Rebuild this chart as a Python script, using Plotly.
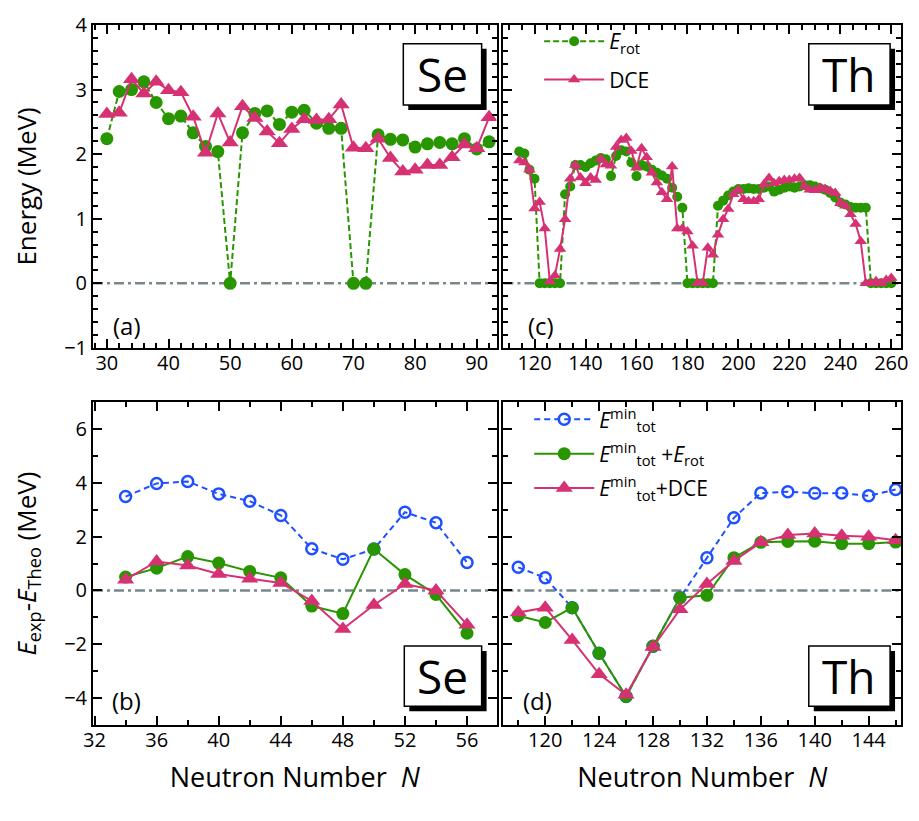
import plotly.graph_objects as go

# ---------------- data ----------------
# (a) Se : rotational energy and DCE
N_se_top = [30, 32, 34, 36, 38, 40, 42, 44, 46, 48, 50, 52, 54, 56, 58, 60,
            62, 64, 66, 68, 70, 72, 74, 76, 78, 80, 82, 84, 86, 88, 90, 92]
se_erot = [2.24, 2.97, 3.00, 3.12, 2.80, 2.55, 2.59, 2.33, 2.12, 2.04, 0.0, 2.33, 2.63, 2.67, 2.46, 2.65,
           2.68, 2.48, 2.40, 2.40, 0.0, 0.0, 2.30, 2.23, 2.22, 2.11, 2.16, 2.18, 2.16, 2.24, 2.08, 2.19]
se_dce = [2.62, 2.64, 3.16, 2.94, 3.12, 2.99, 2.96, 2.58, 2.02, 2.63, 2.18, 2.74, 2.56, 2.35, 2.17, 2.39,
          2.54, 2.53, 2.54, 2.77, 2.10, 2.09, 2.24, 1.94, 1.73, 1.76, 1.83, 1.83, 1.95, 2.15, 2.09, 2.57]

# (c) Th : rotational energy and DCE
N_th_top = [114, 116, 118, 120, 122, 124, 126, 128, 130, 132, 134, 136, 138, 140, 142, 144,
            146, 148, 150, 152, 154, 156, 158, 160, 162, 164, 166, 168, 170, 172, 174, 176,
            178, 180, 182, 184, 186, 188, 190, 192, 194, 196, 198, 200, 202, 204, 206, 208,
            210, 212, 214, 216, 218, 220, 222, 224, 226, 228, 230, 232, 234, 236, 238, 240,
            242, 244, 246, 248, 250, 252, 254, 256, 258, 260]
th_erot = [2.04, 2.01, 1.76, 1.62, 0.0, 0.0, 0.0, 0.0, 0.0, 1.38, 1.50, 1.83, 1.83, 1.80, 1.86, 1.90,
           1.94, 1.92, 1.66, 1.97, 2.06, 2.04, 1.87, 1.66, 1.83, 1.81, 1.76, 1.71, 1.67, 1.62, 1.48, 1.34,
           1.17, 0.0, 0.0, 0.0, 0.0, 0.0, 0.0, 1.20, 1.28, 1.36, 1.42, 1.46, 1.46, 1.47, 1.46, 1.46,
           1.48, 1.50, 1.42, 1.45, 1.48, 1.50, 1.48, 1.50, 1.52, 1.52, 1.50, 1.47, 1.45, 1.40, 1.33, 1.25,
           1.22, 1.18, 1.17, 1.17, 1.17, 0.0, 0.0, 0.0, 0.0, 0.0]
th_dce = [1.90, 1.87, 1.76, 1.16, 1.26, 0.85, 0.03, 0.12, 0.53, 0.99, 1.62, 1.83, 1.64, 1.55, 1.64, 1.60,
          1.93, 1.84, 1.82, 2.11, 2.22, 2.25, 2.05, 1.79, 2.09, 1.95, 1.71, 1.56, 1.41, 1.30, 1.81, 0.85,
          0.85, 0.80, 0.58, 0.0, 0.0, 0.55, 0.44, 0.75, 0.99, 1.15, 1.38, 1.45, 1.30, 1.27, 1.27, 1.30,
          1.53, 1.63, 1.55, 1.58, 1.60, 1.60, 1.62, 1.63, 1.50, 1.45, 1.44, 1.48, 1.46, 1.43, 1.40, 1.24,
          1.20, 1.07, 0.92, 0.65, 0.0, 0.0, 0.03, 0.0, 0.05, 0.08]

# (b) Se : E_exp - E_theo
N_se_bot = [34, 36, 38, 40, 42, 44, 46, 48, 50, 52, 54, 56]
se_tot = [3.49, 3.98, 4.05, 3.59, 3.32, 2.79, 1.55, 1.16, 1.54, 2.91, 2.52, 1.04]
se_tot_rot = [0.50, 0.83, 1.26, 1.02, 0.71, 0.47, -0.58, -0.86, 1.54, 0.59, -0.15, -1.59]
se_tot_dce = [0.40, 1.08, 0.93, 0.61, 0.44, 0.28, -0.39, -1.43, -0.54, 0.24, 0.0, -1.27]

# (d) Th : E_exp - E_theo
N_th_bot = [118, 120, 122, 124, 126, 128, 130, 132, 134, 136, 138, 140, 142, 144, 146]
th_tot = [0.86, 0.47, -0.64, -2.33, -3.94, -2.07, -0.27, 1.22, 2.70, 3.62, 3.67, 3.61, 3.62, 3.52, 3.75]
th_tot_rot = [-0.94, -1.19, -0.64, -2.33, -3.94, -2.07, -0.27, -0.18, 1.22, 1.79, 1.82, 1.83, 1.74, 1.74, 1.80]
th_tot_dce = [-0.82, -0.64, -1.84, -3.11, -3.88, -2.10, -0.70, 0.24, 1.10, 1.79, 2.06, 2.12, 2.03, 2.00, 1.87]

# ---------------- styles ----------------
FONT = "Open Sans"
GREEN = "rgb(40,150,0)"
PINK = "rgb(214,50,115)"
BLUE = "rgb(30,80,255)"
GRAY = "rgb(120,135,140)"

W, H = 919, 821
ML, MR, MT, MB = 93, 11, 16, 96
PW, PH = W - ML - MR, H - MT - MB
# panel pixel boxes
LEFT = (93, 500)
RIGHT = (507, 908)
TOP = (16, 343)
BOT = (398, 725)


def xdom(a, b):
    return [(a - ML) / PW, (b - ML) / PW]


def ydom(top, bot):
    return [(H - MB - bot) / PH, (H - MB - top) / PH]


fig = go.Figure()

# (a)
fig.add_trace(go.Scatter(x=N_se_top, y=se_erot, mode="lines+markers", xaxis="x", yaxis="y",
                         line=dict(color=GREEN, width=2, dash="6px,3px"),
                         marker=dict(symbol="circle", size=13, color=GREEN), showlegend=False))
fig.add_trace(go.Scatter(x=N_se_top, y=se_dce, mode="lines+markers", xaxis="x", yaxis="y",
                         line=dict(color=PINK, width=2),
                         marker=dict(symbol="triangle-up", size=15, color=PINK), showlegend=False))
# (c)
fig.add_trace(go.Scatter(x=N_th_top, y=th_erot, mode="lines+markers", xaxis="x2", yaxis="y2",
                         name="<i>E</i><sub>rot</sub>", legend="legend", legendgroup="c1",
                         line=dict(color=GREEN, width=2, dash="6px,3px"),
                         marker=dict(symbol="circle", size=10, color=GREEN)))
fig.add_trace(go.Scatter(x=N_th_top, y=th_dce, mode="lines+markers", xaxis="x2", yaxis="y2",
                         name="DCE", legend="legend", legendgroup="c2",
                         line=dict(color=PINK, width=2),
                         marker=dict(symbol="triangle-up", size=11, color=PINK)))
# (b)
fig.add_trace(go.Scatter(x=N_se_bot, y=se_tot, mode="lines+markers", xaxis="x3", yaxis="y3",
                         line=dict(color=BLUE, width=2, dash="6px,4px"),
                         marker=dict(symbol="circle-open", size=11, color=BLUE, line=dict(width=2.5)),
                         showlegend=False))
fig.add_trace(go.Scatter(x=N_se_bot, y=se_tot_rot, mode="lines+markers", xaxis="x3", yaxis="y3",
                         line=dict(color=GREEN, width=2),
                         marker=dict(symbol="circle", size=13, color=GREEN), showlegend=False))
fig.add_trace(go.Scatter(x=N_se_bot, y=se_tot_dce, mode="lines+markers", xaxis="x3", yaxis="y3",
                         line=dict(color=PINK, width=2),
                         marker=dict(symbol="triangle-up", size=15, color=PINK), showlegend=False))
# (d)
fig.add_trace(go.Scatter(x=N_th_bot, y=th_tot, mode="lines+markers", xaxis="x4", yaxis="y4",
                         name="<i>E</i><sup>min</sup><sub>tot</sub>", legend="legend2", legendgroup="d1",
                         line=dict(color=BLUE, width=2, dash="6px,4px"),
                         marker=dict(symbol="circle-open", size=11, color=BLUE, line=dict(width=2.5))))
fig.add_trace(go.Scatter(x=N_th_bot, y=th_tot_rot, mode="lines+markers", xaxis="x4", yaxis="y4",
                         name="<i>E</i><sup>min</sup><sub>tot</sub> +<i>E</i><sub>rot</sub>",
                         legend="legend2", legendgroup="d2",
                         line=dict(color=GREEN, width=2),
                         marker=dict(symbol="circle", size=13, color=GREEN)))
fig.add_trace(go.Scatter(x=N_th_bot, y=th_tot_dce, mode="lines+markers", xaxis="x4", yaxis="y4",
                         name="<i>E</i><sup>min</sup><sub>tot</sub>+DCE", legend="legend2", legendgroup="d3",
                         line=dict(color=PINK, width=2),
                         marker=dict(symbol="triangle-up", size=15, color=PINK)))

tickfont = dict(family=FONT, size=20, color="black")


def axis(**kw):
    d = dict(showline=True, linecolor="black", linewidth=2, mirror="allticks",
             ticks="inside", ticklen=9, tickwidth=2, tickcolor="black",
             showgrid=False, zeroline=False, tickfont=tickfont)
    minor_dtick = kw.pop("minor_dtick")
    d["minor"] = dict(ticks="inside", ticklen=5, tickwidth=1.5, tickcolor="black", dtick=minor_dtick)
    d.update(kw)
    return d


title_font = dict(family=FONT, size=26, color="black")
xtitle_font = dict(family=FONT, size=27, color="black")

fig.update_layout(
    width=W, height=H,
    margin=dict(l=ML, r=MR, t=MT, b=MB),
    paper_bgcolor="white", plot_bgcolor="white",
    font=dict(family=FONT, color="black"),
    xaxis=axis(domain=xdom(*LEFT), range=[27.75, 93.2], dtick=10, tick0=0, minor_dtick=2, anchor="y",
               ticklabelstandoff=-4),
    yaxis=axis(domain=ydom(*TOP), range=[-1, 4], dtick=1, tick0=0, minor_dtick=0.2, anchor="x",
               title=dict(text="Energy (MeV)", font=title_font, standoff=20)),
    xaxis2=axis(domain=xdom(*RIGHT), range=[107.8, 263.8], dtick=20, tick0=0, minor_dtick=5, anchor="y2",
                ticklabelstandoff=-4),
    yaxis2=axis(domain=ydom(*TOP), range=[-1, 4], dtick=1, tick0=0, minor_dtick=0.2, anchor="x2",
                showticklabels=False),
    xaxis3=axis(domain=xdom(*LEFT), range=[31.9, 57.9], dtick=4, tick0=0, minor_dtick=2, anchor="y3",
                ticklabelstandoff=-4,
                title=dict(text="Neutron Number  <i>N</i>", font=xtitle_font, standoff=16)),
    yaxis3=axis(domain=ydom(*BOT), range=[-5, 7], dtick=2, tick0=0, minor_dtick=1, anchor="x3",
                title=dict(text="<i>E</i><sub>exp</sub>-<i>E</i><sub>Theo</sub> (MeV)", font=title_font,
                           standoff=20)),
    xaxis4=axis(domain=xdom(*RIGHT), range=[116.9, 146.4], dtick=4, tick0=0, minor_dtick=2, anchor="y4",
                ticklabelstandoff=-4,
                title=dict(text="Neutron Number  <i>N</i>", font=xtitle_font, standoff=16)),
    yaxis4=axis(domain=ydom(*BOT), range=[-5, 7], dtick=2, tick0=0, minor_dtick=1, anchor="x4",
                showticklabels=False),
    legend=dict(x=(543 - ML) / PW, y=(H - MB - 12) / PH, xanchor="left", yanchor="top",
                font=dict(family=FONT, size=21, color="black"), bgcolor="rgba(0,0,0,0)",
                itemwidth=60, tracegroupgap=8),
    legend2=dict(x=(533 - ML) / PW, y=(H - MB - 395) / PH, xanchor="left", yanchor="top",
                 font=dict(family=FONT, size=21, color="black"), bgcolor="rgba(0,0,0,0)",
                 itemwidth=60, tracegroupgap=4),
)

# zero reference lines
for xa, ya in [("x", "y"), ("x2", "y2"), ("x3", "y3"), ("x4", "y4")]:
    fig.add_shape(type="line", xref=f"{xa} domain", yref=ya, x0=0, x1=1, y0=0, y1=0,
                  line=dict(color=GRAY, width=2.5, dash="10px,4px,3px,4px"), layer="below")

# element label boxes with drop shadow
boxes = [("x", "y", LEFT, TOP, 406, 485, 35, 97, "Se"),
         ("x2", "y2", RIGHT, TOP, 815, 897, 35, 97, "Th"),
         ("x3", "y3", LEFT, BOT, 407, 485, 645, 706, "Se"),
         ("x4", "y4", RIGHT, BOT, 815, 897, 645, 706, "Th")]
for xa, ya, (pl, pr), (pt, pb), bx0, bx1, by0, by1, txt in boxes:
    pw, ph = pr - pl, pb - pt
    fx = lambda v: (v - pl) / pw
    fy = lambda v: (pb - v) / ph
    fig.add_shape(type="rect", xref=f"{xa} domain", yref=f"{ya} domain",
                  x0=fx(bx0 + 5), x1=fx(bx1 + 5), y0=fy(by1 + 5), y1=fy(by0 + 5),
                  fillcolor="black", line=dict(width=0), layer="above")
    fig.add_shape(type="rect", xref=f"{xa} domain", yref=f"{ya} domain",
                  x0=fx(bx0), x1=fx(bx1), y0=fy(by1), y1=fy(by0),
                  fillcolor="white", line=dict(color="black", width=1.5), layer="above")
    fig.add_annotation(xref=f"{xa} domain", yref=f"{ya} domain",
                       x=fx((bx0 + bx1) / 2), y=fy((by0 + by1) / 2), text=txt, showarrow=False,
                       font=dict(family=FONT, size=46, color="black"), xanchor="center", yanchor="middle")

# panel letters
letters = [("x", "y", LEFT, TOP, 127, 320, "(a)"),
           ("x2", "y2", RIGHT, TOP, 545, 320, "(c)"),
           ("x3", "y3", LEFT, BOT, 127, 700, "(b)"),
           ("x4", "y4", RIGHT, BOT, 541, 700, "(d)")]
for xa, ya, (pl, pr), (pt, pb), cx, cy, txt in letters:
    fig.add_annotation(xref=f"{xa} domain", yref=f"{ya} domain",
                       x=(cx - pl) / (pr - pl), y=(pb - cy) / (pb - pt), text=txt, showarrow=False,
                       font=dict(family=FONT, size=24, color="black"), xanchor="center", yanchor="middle")

fig.write_html("out.html")
